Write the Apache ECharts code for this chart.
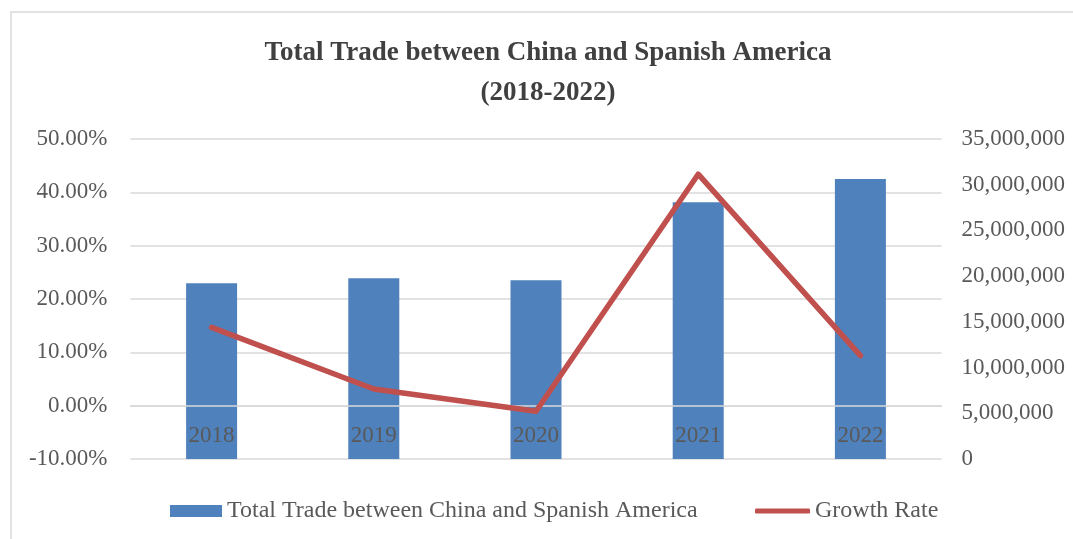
<!DOCTYPE html>
<html>
<head>
<meta charset="utf-8">
<script src="https://cdn.jsdelivr.net/npm/echarts@6/dist/echarts.min.js"></script>
<style>
  html, body { margin: 0; padding: 0; background: #ffffff; }
  #chart { width: 1073px; height: 539px; }
</style>
</head>
<body>
<div id="chart"></div>
<script>
// Years shown on the category axis
const years = ['2018', '2019', '2020', '2021', '2022'];
// Total trade volume per year (right axis)
const totalTrade = [19220000, 19760000, 19550000, 28080000, 30630000];
// Year-on-year growth rate (left axis, as fractions)
const growthRate = [0.1468, 0.0313, -0.0106, 0.4340, 0.0938];
// Axis ranges and tick steps
const rateAxis = { min: -0.1, max: 0.5, interval: 0.1 };
const tradeAxis = { min: 0, max: 35000000, interval: 5000000 };

const SERIF = '"Liberation Serif", "Times New Roman", serif';
const TEXT = '#595959';
const GRID = '#d9d9d9';
const BAR = '#4f81bd';
const LINE = '#c0504d';

const chart = echarts.init(document.getElementById('chart'), null, { renderer: 'canvas' });

chart.setOption({
  backgroundColor: '#ffffff',
  animation: false,
  graphic: [
    {
      type: 'rect',
      silent: true,
      z: -10,
      shape: { x: 11, y: 12, width: 1100, height: 600 },
      style: { fill: 'none', stroke: GRID, lineWidth: 1.5 }
    },
    {
      type: 'text',
      x: 548,
      y: 33,
      style: {
        text: 'Total Trade between China and Spanish America\n(2018-2022)',
        textAlign: 'center',
        textVerticalAlign: 'top',
        font: 'bold 27px ' + SERIF,
        lineHeight: 40,
        fill: '#404040'
      }
    }
  ],
  grid: { left: 130.5, right: 131.5, top: 139, bottom: 80 },
  legend: [
    {
      data: ['Total Trade between China and Spanish America'],
      left: 165,
      top: 494,
      itemWidth: 52,
      itemHeight: 12,
      icon: 'rect',
      textStyle: { color: TEXT, fontSize: 24, fontFamily: SERIF }
    },
    {
      data: ['Growth Rate'],
      left: 750,
      top: 494,
      itemWidth: 55,
      itemHeight: 5,
      icon: 'roundRect',
      textStyle: { color: TEXT, fontSize: 24, fontFamily: SERIF }
    }
  ],
  xAxis: {
    type: 'category',
    data: years,
    z: 5,
    axisLine: { onZero: true, onZeroAxisIndex: 0, lineStyle: { color: GRID, width: 1.5 } },
    axisTick: { show: false },
    // year labels sit just under the 0% line, over the bars
    axisLabel: { color: TEXT, fontSize: 23, fontFamily: SERIF, margin: -35 },
    splitLine: { show: false }
  },
  yAxis: [
    {
      type: 'value',
      position: 'left',
      min: rateAxis.min,
      max: rateAxis.max,
      interval: rateAxis.interval,
      axisLine: { show: false },
      axisTick: { show: false },
      axisLabel: {
        color: TEXT, fontSize: 23, fontFamily: SERIF, margin: 23,
        formatter: v => (v * 100).toFixed(2) + '%'
      },
      splitLine: { lineStyle: { color: GRID, width: 1.5 } }
    },
    {
      type: 'value',
      position: 'right',
      min: tradeAxis.min,
      max: tradeAxis.max,
      interval: tradeAxis.interval,
      axisLine: { show: false },
      axisTick: { show: false },
      axisLabel: {
        color: TEXT, fontSize: 23, fontFamily: SERIF, margin: 20,
        formatter: v => Math.round(v).toLocaleString('en-US')
      },
      splitLine: { show: false }
    }
  ],
  series: [
    {
      name: 'Total Trade between China and Spanish America',
      type: 'bar',
      yAxisIndex: 1,
      data: totalTrade,
      barWidth: 51,
      z: 2,
      itemStyle: { color: BAR }
    },
    {
      name: 'Growth Rate',
      type: 'line',
      yAxisIndex: 0,
      data: growthRate,
      symbol: 'none',
      z: 10,
      lineStyle: { color: LINE, width: 5.5, cap: 'round', join: 'round' },
      itemStyle: { color: LINE }
    }
  ]
});
</script>
</body>
</html>
